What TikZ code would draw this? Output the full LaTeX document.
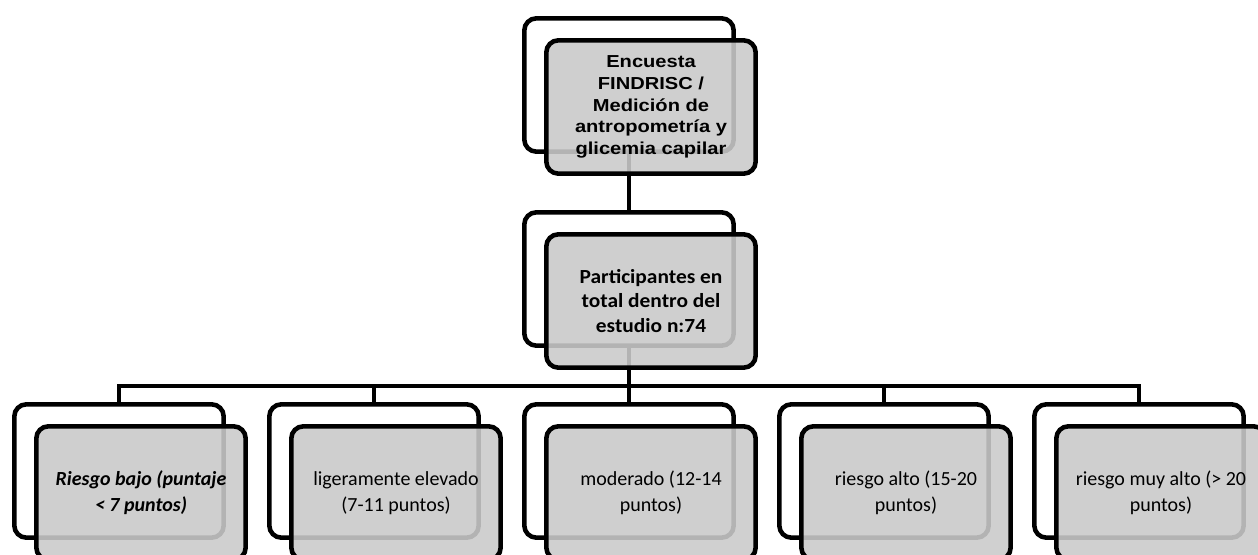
\documentclass[tikz,border=0pt]{standalone}
\usepackage{fontspec}
\setmainfont{Carlito}
\newfontfamily\arialwide[FakeStretch=1.16]{Liberation Sans}
\newfontfamily\midwide[FakeStretch=1.07]{Carlito}
\usetikzlibrary{calc}
\definecolor{BoxFill}{RGB}{202,202,202}
\definecolor{LineClr}{RGB}{0,0,0}

\begin{document}
\begin{tikzpicture}[x=0.75pt,y=-0.75pt,
  backbox/.style={draw=LineClr,line width=3.4pt,rounded corners=9pt,fill=white,
    minimum width=157pt,minimum height=100pt,inner sep=0pt},
  frontbox/.style={backbox,fill=BoxFill,fill opacity=0.89,text opacity=1,align=center},
  leaf/.style={frontbox,font=\fontsize{15}{19.5}\selectfont},
  link/.style={draw=LineClr,line width=3.4pt}]
\useasboundingbox (0,0) rectangle (1258,555);

% back frames
\node[backbox] (encB) at (629,85) {};
\node[backbox] (partB) at (629,279) {};
\foreach \i in {1,...,5}
  \node[backbox] (riskB\i) at ({119+255*(\i-1)},471) {};

% connectors
\coordinate (hub) at (629,386);
\draw[link] (encB.south) -- (partB.north);
\draw[link] (partB.south) -- (hub);
\foreach \i in {1,...,5}
  \draw[link] (hub) -| (riskB\i.north);

% front boxes
\node[frontbox,font=\arialwide\bfseries\fontsize{13}{16.3}\selectfont] (encF) at (651,107)
  {Encuesta\\FINDRISC /\\Medición de\\antropometría y\\glicemia capilar};
\node[frontbox,font=\midwide\bfseries\fontsize{15}{18.4}\selectfont] (partF) at (651,301)
  {Participantes en\\total dentro del\\estudio n:74};

\foreach \i/\txt in {1/{\bfseries\itshape Riesgo bajo (puntaje\\\bfseries\itshape < 7 puntos)},
    2/{ligeramente elevado\\(7-11 puntos)},3/{moderado (12-14\\puntos)},
    4/{riesgo alto (15-20\\puntos)},5/{riesgo muy alto (> 20\\puntos)}}
  \node[leaf] (riskF\i) at ({141+255*(\i-1)},493) {\txt};

\end{tikzpicture}
\end{document}
